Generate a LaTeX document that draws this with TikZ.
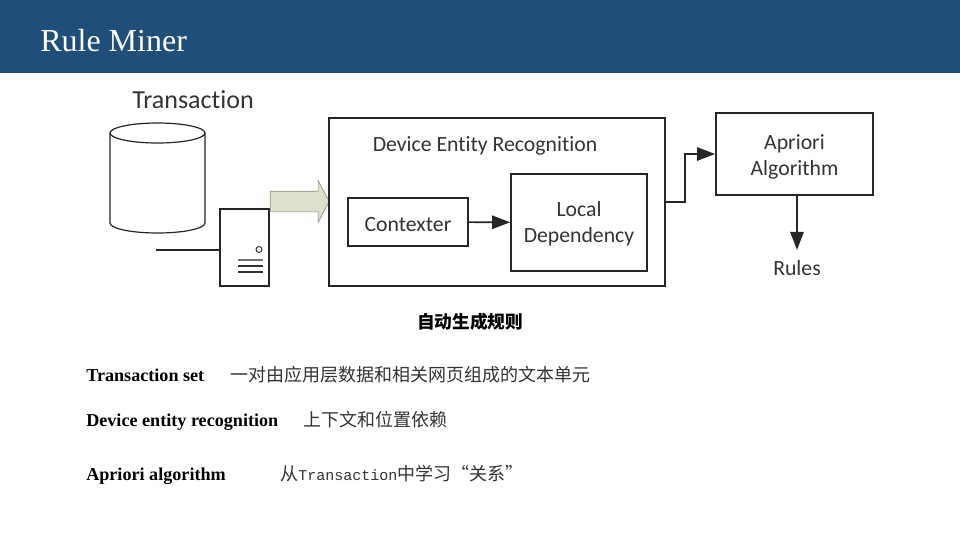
\documentclass[tikz,border=0pt]{standalone}
\usepackage{fontspec}
\setmainfont{Liberation Serif}
\newfontfamily\cjk{Noto Sans CJK SC}
\newfontfamily\figfont[Ligatures=CommonOff]{Carlito}
\newfontfamily\monofont{Liberation Mono}
\usetikzlibrary{calc,arrows.meta,shapes.arrows}
\definecolor{headblue}{HTML}{1F4E79}
\definecolor{figgray}{HTML}{333333}
\definecolor{arrowgreen}{HTML}{DDE0CC}
\definecolor{arrowedge}{HTML}{8E9080}
\newcommand{\lift}[1]{\rule{0pt}{#1}}
\tikzset{
  figbox/.style={draw=black!85,line width=1.3pt,inner sep=0pt},
  figlabel/.style={font=\figfont\fontsize{16.3}{19.5}\selectfont,text=figgray,align=center,inner sep=0pt},
  flow/.style={-{Triangle[length=13.5pt,width=10pt]},line width=1.2pt,black!85},
  termlabel/.style={anchor=base west,inner sep=0pt,font=\fontsize{13.6}{16}\selectfont\bfseries},
  cjklabel/.style={anchor=west,inner sep=0pt,text=black!80,font=\cjk\fontsize{13.5}{16}\selectfont},
}
\begin{document}
\begin{tikzpicture}[x=0.75pt,y=-0.75pt]
\useasboundingbox (0,0) rectangle (960,540);
\fill[headblue] (0,0) rectangle (960,73);
\node[anchor=base west,inner sep=0pt,text=white,font=\fontsize{24}{28}\selectfont] (title) at (40,51) {Rule Miner};

\node[figlabel,font=\figfont\fontsize{19.5}{22}\selectfont] (translabel) at (193,100) {Transaction};
% database drum
\draw[black!85,line width=0.9pt] (157.5,133) ellipse [x radius=35.6pt,y radius=7.5pt];
\draw[black!85,line width=0.9pt] (110,133) -- (110,223) arc[start angle=180,end angle=360,x radius=35.6pt,y radius=7.5pt] -- (205,133);
\node[figbox,line width=0.9pt,minimum width=36.75pt,minimum height=57.75pt] (server) at (244.5,247.5) {};
\coordinate (cableend) at (156,250);
\draw[line width=1.2pt,black!85] (cableend) -- (server.west |- cableend);
\node[draw=black!85,circle,line width=0.7pt,inner sep=0pt,minimum size=4.5pt] (led) at (259,249.5) {};
\foreach \y/\c in {260/black!55,266/black!80,272/black!80}
  \draw[line width=1.8pt,\c] (238,\y) -- (263,\y);

\node[single arrow,draw=arrowedge,fill=arrowgreen,line width=0.5pt,inner xsep=0pt,inner ysep=7.5pt,
  minimum width=30.75pt,minimum height=44.25pt,single arrow tip angle=124,
  single arrow head extend=7.9pt] (bigarrow) at (297,201.5) {};

\node[figbox,minimum width=252pt,minimum height=126pt] (device) at (497,202) {};
\node[figlabel] (devicelabel) at (485,145.5) {Device Entity Recognition};
\node[figbox,line width=0.9pt,figlabel,minimum width=90pt,minimum height=36pt] (contexter) at (408,222) {\lift{15pt}Contexter};
\node[figbox,figlabel,minimum width=102pt,minimum height=72.75pt] (localdep) at (579,222.5) {\lift{13pt}Local\\Dependency};
\node[figbox,figlabel,minimum width=117.75pt,minimum height=61.5pt] (apriori) at (794.5,154) {\lift{15pt}Apriori\\Algorithm};
\node[figlabel] (rules) at (797,268.5) {Rules};

\draw[flow] (contexter) -- (localdep);
\draw[flow] (device.east) -- ++(19,0) |- (apriori.west);
\draw[flow,shorten >=8pt] (rules.north |- apriori.south) -- (rules.north);

\node[inner sep=0pt,font=\cjk\bfseries\fontsize{13.25}{16}\selectfont] (caption) at (470,322) {自动生成规则};
\node[termlabel] (term1) at (86,381.5) {Transaction set};
\node[termlabel] (term2) at (86,426.5) {Device entity recognition};
\node[termlabel] (term3) at (86,480.5) {Apriori algorithm};
\node[cjklabel] (desc1) at (230,375) {一对由应用层数据和相关网页组成的文本单元};
\node[cjklabel] (desc2) at (303,420) {上下文和位置依赖};
\node[cjklabel] (desc3) at (280,474) {从{\monofont\fontsize{11.25}{16}\selectfont Transaction}中学习“关系”};
\end{tikzpicture}
\end{document}
